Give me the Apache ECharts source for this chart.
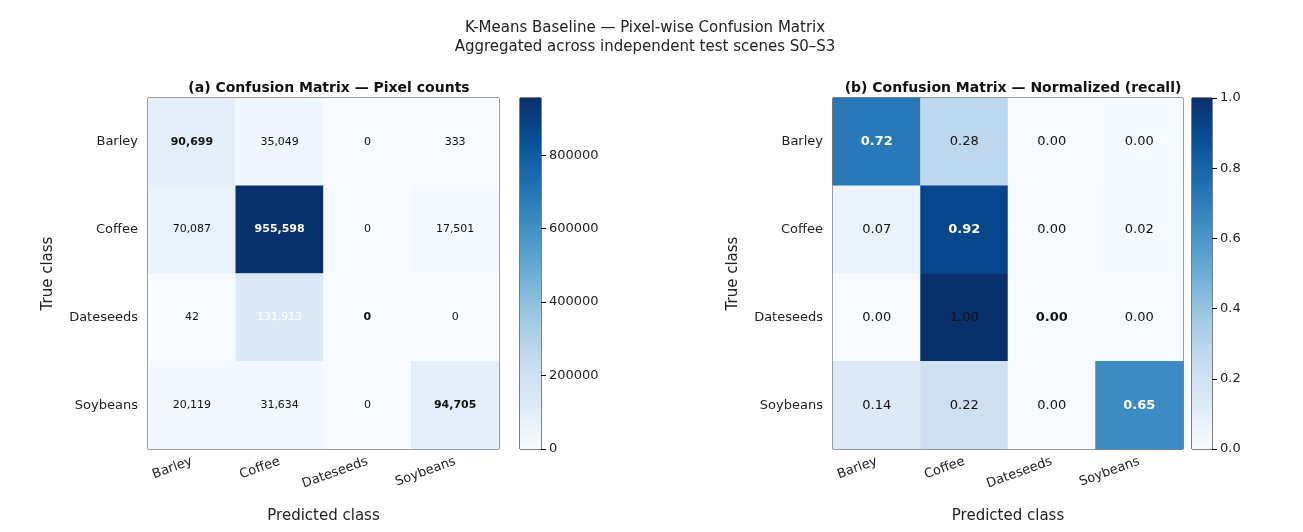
<!DOCTYPE html>
<html><head><meta charset="utf-8">
<script src="https://cdn.jsdelivr.net/npm/echarts@6/dist/echarts.min.js"></script>
<style>html,body{margin:0;background:#fff}#c{width:1303px;height:532px}</style>
</head><body><div id="c"></div>
<script>
const classes = ['Barley','Coffee','Dateseeds','Soybeans'];
const counts = [
  [90699, 35049, 0, 333],
  [70087, 955598, 0, 17501],
  [42, 131913, 0, 0],
  [20119, 31634, 0, 94705]
];
const countTicks = [0,200000,400000,600000,800000];
const normTicks = [0,0.2,0.4,0.6,0.8,1.0];
const blues = ['#f7fbff','#deebf7','#c6dbef','#9ecae1','#6baed6','#4292c6','#2171b5','#08519c','#08306b'];
const maxCount = Math.max(...counts.flat());
const norm = counts.map(r => { const s = r.reduce((a,b)=>a+b,0); return r.map(v => s ? v/s : 0); });

function cells(m){ const d=[]; m.forEach((r,i)=>r.forEach((v,j)=>d.push([j,i,v]))); return d; }
const font = 'DejaVu Sans';
function labelCfg(m, max, fmt, flip, fs){
  return cells(m).map(([j,i,v])=>{
    let white = v > max/2; if (flip && j===1 && i===2) white = !white;
    return {value:[j,i,v], label:{show:true, formatter:fmt(v), color: white?'#fff':'#111', fontWeight: i===j?'bold':'normal', fontSize:fs, fontFamily:font}};
  });
}
const grids = [
  {left:148, top:98, width:351, height:351, show:true, borderColor:'#000', borderWidth:1},
  {left:833, top:98, width:350, height:351, show:true, borderColor:'#000', borderWidth:1},
  {left:520, top:98, width:21, height:351, show:true, borderColor:'#000', borderWidth:1},
  {left:1192, top:98, width:20, height:351, show:true, borderColor:'#000', borderWidth:1}
];
function xCat(g){ return {type:'category', gridIndex:g, data:classes, name:'Predicted class', nameLocation:'middle', nameGap:60,
  nameTextStyle:{fontSize:15, fontFamily:font, color:'#222'}, axisLine:{show:false}, axisTick:{alignWithLabel:true, lineStyle:{color:'#000'}},
  axisLabel:{rotate:20, fontSize:13, fontFamily:font, color:'#222', margin:12}, splitLine:{show:false}}; }
function yCat(g){ return {type:'category', gridIndex:g, data:classes, inverse:true, name:'True class', nameLocation:'middle', nameGap:92,
  nameTextStyle:{fontSize:15, fontFamily:font, color:'#222'}, axisLine:{show:false}, axisTick:{alignWithLabel:true, lineStyle:{color:'#000'}},
  axisLabel:{fontSize:13, fontFamily:font, color:'#222', margin:10}}; }
function cbX(g){ return {type:'category', gridIndex:g, data:[''], show:false}; }
function cbY(g, max, ticks, fmt){ return {type:'value', gridIndex:g, min:0, max:max, position:'right', splitLine:{show:false},
  axisLine:{show:false},
  axisLabel:{fontSize:13, fontFamily:font, color:'#222', formatter:v=>fmt(v), customValues:ticks},
  axisTick:{show:true, customValues:ticks, length:5, lineStyle:{color:'#000'}}}; }
const grad = {type:'linear', x:0, y:1, x2:0, y2:0, colorStops: blues.map((c,i)=>({offset:i/(blues.length-1), color:c}))};
const option = {
  animation:false,
  title:[
    {text:'K-Means Baseline — Pixel-wise Confusion Matrix\nAggregated across independent test scenes S0–S3', left:640, top:14, textAlign:'center',
      textStyle:{fontSize:15, fontWeight:'normal', fontFamily:font, color:'#222', lineHeight:19}},
    {text:'(a) Confusion Matrix — Pixel counts', left:324, top:76, textAlign:'center', textStyle:{fontSize:14, fontWeight:'bold', fontFamily:font, color:'#111'}},
    {text:'(b) Confusion Matrix — Normalized (recall)', left:1008, top:76, textAlign:'center', textStyle:{fontSize:14, fontWeight:'bold', fontFamily:font, color:'#111'}}
  ],
  grid: grids,
  xAxis:[xCat(0), xCat(1), cbX(2), cbX(3)],
  yAxis:[yCat(0), yCat(1), cbY(2, maxCount, countTicks, v=>String(v)), cbY(3, 1, normTicks, v=>v.toFixed(1))],
  visualMap:[
    {type:'continuous', show:false, min:0, max:maxCount, seriesIndex:0, inRange:{color:blues}},
    {type:'continuous', show:false, min:0, max:1, seriesIndex:1, inRange:{color:blues}}
  ],
  series:[
    {type:'heatmap', xAxisIndex:0, yAxisIndex:0, data:labelCfg(counts, maxCount, v=>v.toLocaleString('en-US'), true, 11)},
    {type:'heatmap', xAxisIndex:1, yAxisIndex:1, data:labelCfg(norm, 1, v=>v.toFixed(2), true, 13)},
    {type:'bar', xAxisIndex:2, yAxisIndex:2, data:[maxCount], barWidth:'100%', itemStyle:{color:grad}, silent:true},
    {type:'bar', xAxisIndex:3, yAxisIndex:3, data:[1], barWidth:'100%', itemStyle:{color:grad}, silent:true}
  ]
};
echarts.init(document.getElementById('c')).setOption(option);
</script></body></html>
